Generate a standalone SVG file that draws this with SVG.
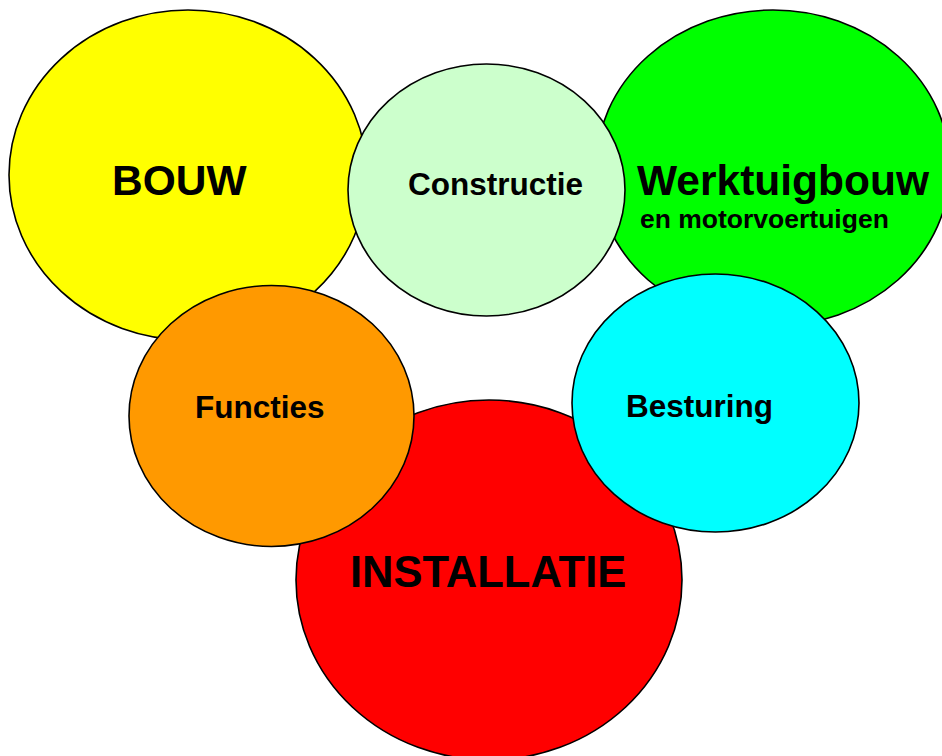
<svg xmlns="http://www.w3.org/2000/svg" width="942" height="756" viewBox="0 0 942 756">
<style>
ellipse{stroke:#000;stroke-width:1.6}
text{font-family:"Liberation Sans",Arial,sans-serif;font-weight:bold;fill:#000}
.big{font-size:42.5px}
.mid{font-size:31.5px}
</style>
<rect width="942" height="756" fill="#fff"/>
<g id="bouw"><ellipse cx="188" cy="175" rx="179" ry="165" fill="#FFFF00"/><text class="big" x="112" y="195">BOUW</text></g>
<g id="werktuigbouw"><ellipse cx="773" cy="168" rx="177" ry="158" fill="#00FF00"/><text class="big" x="637" y="195">Werktuigbouw</text><text x="640" y="228" font-size="26.5">en motorvoertuigen</text></g>
<g id="installatie"><ellipse cx="489" cy="580" rx="193" ry="180" fill="#FF0000"/><text x="350" y="587" font-size="43.5">INSTALLATIE</text></g>
<g id="constructie"><ellipse cx="486.5" cy="190" rx="138.5" ry="126" fill="#CCFFCC"/><text class="mid" x="408" y="195">Constructie</text></g>
<g id="functies"><ellipse cx="271.5" cy="416" rx="142.5" ry="130.5" fill="#FF9900"/><text class="mid" x="195" y="418">Functies</text></g>
<g id="besturing"><ellipse cx="715.5" cy="403" rx="143.5" ry="129" fill="#00FFFF"/><text class="mid" x="626" y="417">Besturing</text></g>
<g id="connectors"/>
</svg>
